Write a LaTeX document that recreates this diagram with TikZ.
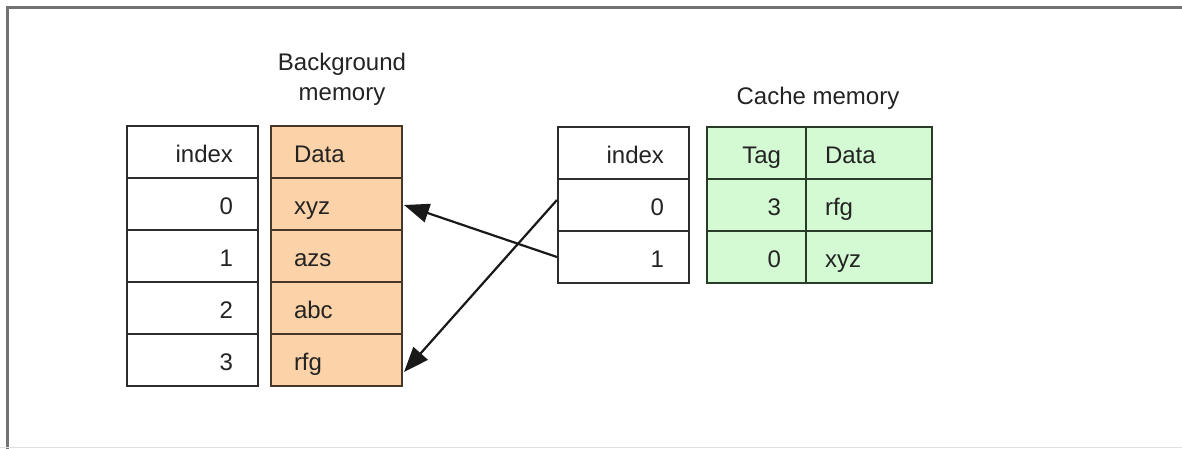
\documentclass[tikz,border=0pt]{standalone}
\usepackage{fontspec}
\setmainfont{Liberation Sans}
\usetikzlibrary{arrows.meta,calc}
\definecolor{bgorange}{RGB}{252,210,168}
\definecolor{cgreen}{RGB}{212,250,212}
\definecolor{frame}{RGB}{115,115,115}
\definecolor{cellline}{RGB}{45,45,45}
\definecolor{txt}{RGB}{35,35,35}
\begin{document}
\begin{tikzpicture}[x=1pt,y=-1pt,
  every node/.style={font=\fontsize{24}{28}\selectfont, text=txt},
  cell/.style={draw=cellline, line width=2.1pt, minimum height=52pt,
    text height=23pt, text depth=2pt, inner ysep=0pt},
  idxcell/.style={cell, fill=white, text width=81pt, inner xsep=25pt, align=right},
  bgcell/.style={cell, fill=bgorange, draw={rgb,255:red,70;green,55;blue,40}, text width=85pt, inner xsep=23pt, align=left},
  tagcell/.style={cell, fill=cgreen, draw={rgb,255:red,40;green,60;blue,40}, text width=49pt, inner xsep=25pt, align=right},
  cdatacell/.style={cell, fill=cgreen, draw={rgb,255:red,40;green,60;blue,40}, text width=88pt, inner xsep=19pt, align=left},
  title/.style={align=center, font=\fontsize{24}{30}\selectfont},
  ptr/.style={line width=2.2pt, draw=black!90, -{Triangle[length=25pt,width=19pt]}}
]
\useasboundingbox (0,0) rectangle (1182,448);
\begin{scope}
\clip (0,0) rectangle (1182,448);
\draw[frame, line width=3pt] (7,7) rectangle (1200,470);
\draw[black!12, line width=1pt] (0,447) -- (1182,447);
\end{scope}

% Background memory
\node[title] (bgtitle) at (342,79) {Background\\memory};
\node[idxcell] (bi0) at (192.5,152) {index};
\node[idxcell] (bi1) at (192.5,204) {0};
\node[idxcell] (bi2) at (192.5,256) {1};
\node[idxcell] (bi3) at (192.5,308) {2};
\node[idxcell] (bi4) at (192.5,360) {3};
\node[bgcell] (bd0) at (336.5,152) {Data};
\node[bgcell] (bd1) at (336.5,204) {xyz};
\node[bgcell] (bd2) at (336.5,256) {azs};
\node[bgcell] (bd3) at (336.5,308) {abc};
\node[bgcell] (bd4) at (336.5,360) {rfg};

% Cache memory
\node[title] (ctitle) at (818,98) {Cache memory};
\node[idxcell] (ci0) at (623.5,153) {index};
\node[idxcell] (ci1) at (623.5,205) {0};
\node[idxcell] (ci2) at (623.5,257) {1};
\node[tagcell] (ct0) at (756.5,153) {Tag};
\node[tagcell] (ct1) at (756.5,205) {3};
\node[tagcell] (ct2) at (756.5,257) {0};
\node[cdatacell] (cd0) at (869,153) {Data};
\node[cdatacell] (cd1) at (869,205) {rfg};
\node[cdatacell] (cd2) at (869,257) {xyz};

% Pointers
\draw[ptr] (ci2.west) -- ($(bd1.east)+(1,1)$);
\draw[ptr] ($(ci1.west)+(0,-5)$) -- ($(bd4.east)+(1,12)$);
\end{tikzpicture}
\end{document}
